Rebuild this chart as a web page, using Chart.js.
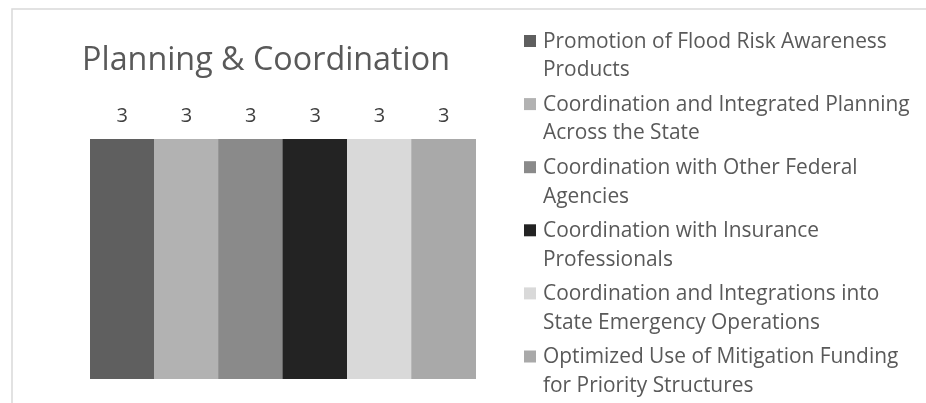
<!DOCTYPE html>
<html>
<head>
<meta charset="utf-8">
<style>
  html, body { margin: 0; padding: 0; background: #ffffff; overflow: hidden; }
  #wrap { position: relative; width: 926px; height: 403px; }
  canvas { display: block; }
</style>
<script src="https://cdn.jsdelivr.net/npm/chart.js"></script>
</head>
<body>
<div id="wrap"><canvas id="c" width="926" height="403"></canvas></div>
<script>
const chartTitle = "Planning & Coordination";
const categories = [
  "Promotion of Flood Risk Awareness Products",
  "Coordination and Integrated Planning Across the State",
  "Coordination with Other Federal Agencies",
  "Coordination with Insurance Professionals",
  "Coordination and Integrations into State Emergency Operations",
  "Optimized Use of Mitigation Funding for Priority Structures"
];
const values = [3, 3, 3, 3, 3, 3];
const barColors = ["#5f5f5f", "#b2b2b2", "#8a8a8a", "#232323", "#d9d9d9", "#a9a9a9"];

const FONT = "'Open Sans', 'Noto Sans', sans-serif";
const TEXT_COLOR = "#595959";

function wrapText(ctx, text, maxW) {
  const words = text.split(" ");
  const lines = [];
  let cur = "";
  for (const w of words) {
    const test = cur ? cur + " " + w : w;
    if (ctx.measureText(test).width > maxW && cur) {
      lines.push(cur);
      cur = w;
    } else {
      cur = test;
    }
  }
  if (cur) lines.push(cur);
  return lines;
}

function fitSize(ctx, text, target, start) {
  ctx.font = start + "px " + FONT;
  const w = ctx.measureText(text).width;
  return start * target / w;
}

const decorPlugin = {
  id: "decor",
  beforeDraw(chart) {
    const ctx = chart.ctx;
    ctx.save();
    ctx.fillStyle = "#ffffff";
    ctx.fillRect(0, 0, chart.width, chart.height);
    ctx.strokeStyle = "#d9d9d9";
    ctx.lineWidth = 1.5;
    ctx.strokeRect(12, 9, chart.width + 20, chart.height + 20);
    ctx.restore();
  },
  afterDraw(chart) {
    const ctx = chart.ctx;
    ctx.save();
    // title
    const ts = fitSize(ctx, chartTitle, 368, 28);
    ctx.fillStyle = TEXT_COLOR;
    ctx.font = ts + "px " + FONT;
    ctx.textAlign = "center";
    ctx.textBaseline = "alphabetic";
    ctx.fillText(chartTitle, 266, 70);

    // value labels
    const meta = chart.getDatasetMeta(0);
    ctx.font = "20px " + FONT;
    ctx.fillStyle = "#404040";
    meta.data.forEach((bar, i) => {
      ctx.fillText(String(chart.data.datasets[0].data[i]), bar.x, bar.y - 17);
    });

    // legend
    const ls = fitSize(ctx, "Promotion of Flood Risk Awareness", 344, 20);
    ctx.font = ls + "px " + FONT;
    ctx.textAlign = "left";
    const labels = chart.data.labels;
    const bg = chart.data.datasets[0].backgroundColor;
    labels.forEach((lab, i) => {
      const base = 47.5 + i * 63.1;
      ctx.fillStyle = bg[i];
      ctx.fillRect(524, base - 12.5, 12, 12);
      ctx.fillStyle = TEXT_COLOR;
      const lines = wrapText(ctx, lab, 372);
      lines.forEach((ln, j) => {
        ctx.fillText(ln, 543, base + j * 28.8);
      });
    });
    ctx.restore();
  }
};

new Chart(document.getElementById("c"), {
  type: "bar",
  data: {
    labels: categories,
    datasets: [{
      data: values,
      backgroundColor: barColors,
      borderWidth: 0,
      barPercentage: 1,
      categoryPercentage: 1
    }]
  },
  options: {
    responsive: false,
    animation: false,
    devicePixelRatio: 1,
    layout: { padding: { left: 90, right: 450, top: 139, bottom: 24 } },
    plugins: {
      legend: { display: false },
      title: { display: false },
      tooltip: { enabled: false }
    },
    scales: {
      x: { display: false, offset: true },
      y: { display: false, min: 0, max: 3 }
    }
  },
  plugins: [decorPlugin]
});
</script>
</body>
</html>
